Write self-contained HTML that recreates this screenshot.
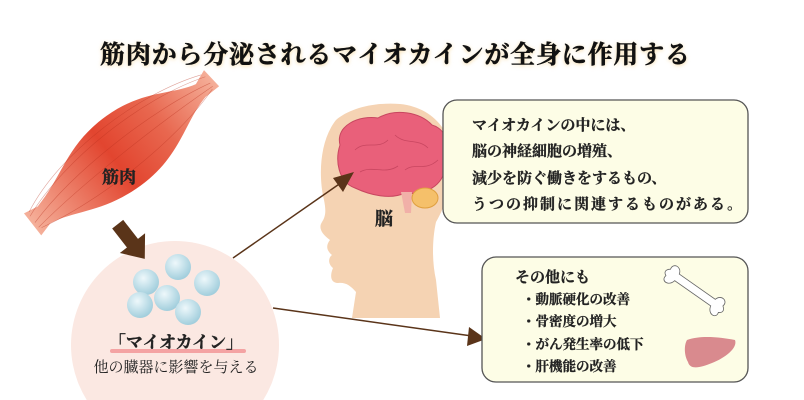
<!DOCTYPE html>
<html><head><meta charset="utf-8"><style>
html,body{margin:0;padding:0;background:#fff;width:804px;height:400px;overflow:hidden;}
svg{display:block;}
text{font-family:"Liberation Serif","Noto Serif CJK SC","Noto Sans CJK JP",serif;}
</style></head><body>
<svg width="804" height="400" viewBox="0 0 804 400" xmlns="http://www.w3.org/2000/svg">
<defs>
<radialGradient id="ball" cx="0.4" cy="0.35" r="0.7"><stop offset="0" stop-color="#eef8fb"/><stop offset="1" stop-color="#9ccbda"/></radialGradient>
<linearGradient id="mus" x1="0" y1="0" x2="1" y2="0"><stop offset="0" stop-color="#f5b09a"/><stop offset="0.45" stop-color="#e2452f"/><stop offset="0.7" stop-color="#e8674f"/><stop offset="1" stop-color="#f5b09a"/></linearGradient>
<filter id="glow"><feGaussianBlur stdDeviation="2"/></filter>
<clipPath id="fr"><rect x="0" y="0" width="804" height="400"/></clipPath>
</defs>
<g clip-path="url(#fr)">
<text x="395" y="64" font-size="25" font-weight="bold" text-anchor="middle" fill="#f6d79a" filter="url(#glow)" textLength="590">筋肉から分泌されるマイオカインが全身に作用する</text>
<text x="395" y="63" font-size="25" font-weight="bold" text-anchor="middle" fill="#111" stroke="#111" stroke-width="0.5" textLength="590">筋肉から分泌されるマイオカインが全身に作用する</text>
<g transform="translate(122,152) rotate(-38)">
<path d="M-115,-12 L-100,-9 C-60,-18 -40,-40 10,-38 C55,-36 75,-14 100,-8 L115,-14 L117,8 L100,8 C70,14 45,38 0,38 C-50,38 -70,18 -100,12 L-115,16 Z" fill="url(#mus)"/>
<g stroke="#b8301e" stroke-width="0.6" opacity="0.45" fill="none">
<path d="M-112,-6 C-50,-30 50,-30 112,-8"/><path d="M-112,2 C-50,-15 50,-15 112,0"/><path d="M-112,8 C-50,0 50,0 112,4"/>
<path d="M-110,10 C-50,25 50,25 110,6"/><path d="M-110,-10 C-50,-38 50,-36 110,-12"/>
</g>
</g>
<text x="119" y="183" font-size="17" font-weight="bold" text-anchor="middle" fill="#222" stroke="#222" stroke-width="0.4">筋肉</text>
<circle cx="175" cy="345" r="104" fill="#fbe8e2"/>
<g transform="translate(130,240) rotate(52)">
<polygon points="-20,-7 4,-7 4,-16 24,0 4,16 4,7 -20,7" fill="#5a3419"/>
</g>
<g fill="url(#ball)">
<circle cx="146" cy="282" r="13"/><circle cx="178" cy="267" r="13"/><circle cx="207" cy="283" r="13"/>
<circle cx="167" cy="298" r="13"/><circle cx="140" cy="305" r="13"/><circle cx="188" cy="312" r="13"/>
</g>
<rect x="110" y="349" width="136" height="4" fill="#f4a3a3" rx="2"/>
<text x="176" y="348" font-size="17" font-weight="bold" text-anchor="middle" fill="#222" stroke="#222" stroke-width="0.4">「マイオカイン」</text>
<text x="176" y="372" font-size="15" text-anchor="middle" fill="#222">他の臓器に影響を与える</text>
<path d="M336,120 C350,108 375,102 400,104 C430,107 450,128 452,155 C454,180 446,205 436,222 C432,240 432,262 436,280 L440,318 L352,318 L356,292 C350,285 345,282 338,283 C330,283 330,275 333,268 C328,264 328,258 332,255 C326,250 326,245 330,240 C322,234 318,228 322,222 C326,216 326,210 324,200 C318,175 320,140 336,120 Z" fill="#f5d3b3"/>
<path d="M340,145 C335,125 360,115 378,118 C395,108 420,112 432,125 C450,130 452,155 445,170 C440,190 420,195 405,193 C390,200 370,195 355,188 C338,182 335,160 340,145 Z" fill="#e9607a" stroke="#c84660" stroke-width="1"/>
<g stroke="#c84660" stroke-width="0.8" fill="none"><path d="M355,150 C365,140 378,150 388,140"/><path d="M395,135 C405,145 418,138 428,148"/><path d="M360,172 C372,165 385,175 398,166"/><path d="M405,170 C415,162 425,172 438,160"/></g>
<path d="M401,192 L405,213 L411,213 L412,192 Z" fill="#f1b0a8"/>
<ellipse cx="425" cy="198" rx="13" ry="10" fill="#f5c06a" stroke="#e0a040" stroke-width="1"/>
<text x="384" y="225" font-size="18" font-weight="bold" text-anchor="middle" fill="#222" stroke="#222" stroke-width="0.4">脳</text>
<line x1="233" y1="258" x2="345" y2="180" stroke="#5a3419" stroke-width="1.5"/>
<polygon points="354,172 333,178 343,192" fill="#5a3419"/>
<line x1="273" y1="308" x2="472" y2="336" stroke="#5a3419" stroke-width="1.5"/>
<polygon points="486,339 469,327 467,346" fill="#5a3419"/>
<rect x="443" y="100" width="305" height="123" rx="14" fill="#fdfde6" stroke="#555" stroke-width="1.3"/>
<g font-size="15" fill="#222" font-weight="bold" stroke="#222" stroke-width="0.3">
<text x="472" y="130">マイオカインの中には、</text>
<text x="472" y="156">脳の神経細胞の増殖、</text>
<text x="472" y="183">減少を防ぐ働きをするもの、</text>
<text x="472" y="209" textLength="270">うつの抑制に関連するものがある。</text>
</g>
<rect x="482" y="257" width="266" height="125" rx="14" fill="#fdfde6" stroke="#555" stroke-width="1.3"/>
<g font-size="13.5" fill="#222" font-weight="bold" stroke="#222" stroke-width="0.3">
<text x="515" y="282" font-size="15">その他にも</text>
<text x="522" y="304">・動脈硬化の改善</text>
<text x="522" y="326">・骨密度の増大</text>
<text x="522" y="349">・がん発生率の低下</text>
<text x="522" y="371">・肝機能の改善</text>
</g>
<g transform="translate(695,290) rotate(35)">
<path d="M-22,-4 L22,-4 C24,-12 34,-10 32,-3 C36,0 36,3 32,5 C34,12 24,13 22,4 L-22,4 C-24,13 -34,12 -32,5 C-36,3 -36,0 -32,-3 C-34,-10 -24,-12 -22,-4 Z" fill="#fff" stroke="#666" stroke-width="0.8"/>
</g>
<path d="M687,340 C700,335 720,337 735,340 C738,348 725,358 712,363 C700,368 690,370 688,362 C684,355 684,345 687,340 Z" fill="#d98a8e"/>
</g>
</svg>
</body></html>
